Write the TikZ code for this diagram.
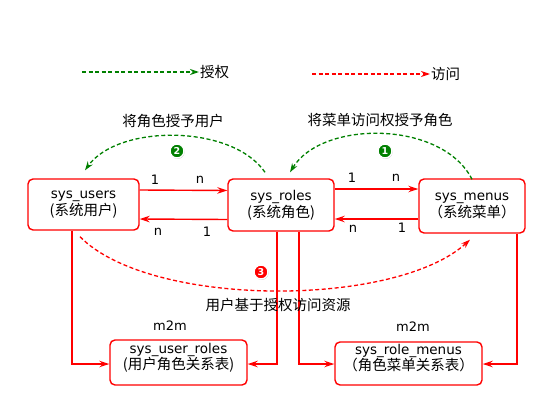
\documentclass[tikz,border=0pt]{standalone}
\usepackage{fontspec}
\setmainfont{DejaVu Sans}
\newfontfamily\cjk{Noto Sans CJK SC}
\usetikzlibrary{arrows.meta,shadows}
\definecolor{gr}{RGB}{0,128,0}
\definecolor{rd}{RGB}{255,0,0}
\begin{document}
\begin{tikzpicture}[x=1pt,y=-1pt,
  box/.style={draw=rd, line width=1.4pt, rounded corners=5pt, align=center, inner sep=0pt, fill=white,
    font=\fontsize{13.5}{17}\selectfont},
  conn/.style={draw=rd, line width=1.4pt, -{Stealth[length=10pt,width=6.5pt]}},
  grant/.style={draw=gr, line width=1.3pt, dash pattern=on 4pt off 2.5pt, -{Stealth[length=9pt,width=6pt]}},
  access/.style={draw=rd, line width=1.3pt, dash pattern=on 4pt off 2.5pt, -{Stealth[length=9pt,width=6pt]}},
  lbl/.style={font=\fontsize{13}{15}\selectfont, inner sep=0pt},
  clbl/.style={font=\cjk\fontsize{14.5}{16}\selectfont, inner sep=0pt},
  badge/.style={circle, inner sep=0pt, minimum size=14pt, draw=white, line width=1.4pt, text=white,
    font=\bfseries\fontsize{9.5}{10}\selectfont, drop shadow={shadow xshift=0.6pt, shadow yshift=-0.9pt, opacity=0.45}}
]
\useasboundingbox (0,0) rectangle (554,404);

% legend
\coordinate (g1) at (82,72);
\coordinate (g2) at (199,72);
\draw[grant] (g1) -- (g2);
\node[clbl, anchor=west] (gt) at (200,72) {授权};
\coordinate (a1) at (312,74);
\coordinate (a2) at (430,74);
\draw[access] (a1) -- (a2);
\node[clbl, anchor=west] (at) at (431,74) {访问};

% boxes
\node[box, minimum width=111pt, minimum height=51pt] (users) at (83.5,204.5) {sys\_users\\{\cjk\fontsize{14.5}{17}\selectfont (系统用户)}};
\node[box, minimum width=106pt, minimum height=52pt] (roles) at (281,205) {sys\_roles\\{\cjk\fontsize{14.5}{17}\selectfont (系统角色)}};
\node[box, minimum width=106pt, minimum height=54pt] (menus) at (472,206) {sys\_menus\\{\cjk\fontsize{14.5}{17}\selectfont （系统菜单）}};
\node[box, minimum width=137pt, minimum height=45pt] (uroles) at (178.5,362.5) {sys\_user\_roles\\[-1pt]{\cjk\fontsize{14.5}{17}\selectfont (用户角色关系表)}\\[-4pt]};
\node[box, minimum width=147pt, minimum height=43pt] (rmenus) at (408.5,363.5) {sys\_role\_menus\\[-1pt]{\cjk\fontsize{14.5}{17}\selectfont （角色菜单关系表）}\\[-4pt]};

% horizontal connectors
\draw[conn] ([yshift=14.5pt]users.east) -- ([yshift=14.5pt]roles.west);
\draw[conn] ([yshift=-14.5pt]roles.west) -- ([yshift=-14.5pt]users.east);
\draw[conn] ([yshift=16pt]roles.east) -- ([yshift=17pt]menus.west);
\draw[conn] ([yshift=-13pt]menus.west) -- ([yshift=-14pt]roles.east);

\node[lbl] (l1) at (155,180) {1};
\node[lbl] (l2) at (200,180) {n};
\node[lbl] (l3) at (158,232) {n};
\node[lbl] (l4) at (207,232) {1};
\node[lbl] (l5) at (352,178) {1};
\node[lbl] (l6) at (396,178) {n};
\node[lbl] (l7) at (353,229) {n};
\node[lbl] (l8) at (402,228) {1};

% elbow connectors
\draw[conn] ([xshift=-11.5pt]users.south) |- ([yshift=-1.5pt]uroles.west);
\draw[conn] ([xshift=-4pt]roles.south) |- ([yshift=-1.5pt]uroles.east);
\draw[conn] ([xshift=18pt]roles.south) |- ([yshift=-0.5pt]rmenus.west);
\draw[conn] ([xshift=45pt]menus.south) |- ([yshift=-0.5pt]rmenus.east);

% curves
\draw[grant] ([shift={(-16,-6)}]roles.north) .. controls (232,124) and (118,124) .. ([shift={(1.5,-8)}]users.north);
\draw[grant] ([shift={(0,1)}]menus.north) .. controls (442,120) and (322,120) .. ([shift={(9,-6)}]roles.north);
\draw[access] ([shift={(-3.5,6)}]users.south) .. controls (150,308) and (395,308) .. ([shift={(-2,6)}]menus.south);

% labels
\node[clbl] (t1) at (173,121) {将角色授予用户};
\node[clbl] (t2) at (380,120) {将菜单访问权授予角色};
\node[clbl] (t3) at (278,305) {用户基于授权访问资源};
\node[lbl] (m1) at (170,326) {m2m};
\node[lbl] (m2) at (413,327) {m2m};

% badges
\node[badge, fill=gr] (b2) at (177,151) {2};
\node[badge, fill=gr] (b1) at (385,151) {1};
\node[badge, fill=rd] (b3) at (261,272) {3};
\end{tikzpicture}
\end{document}
